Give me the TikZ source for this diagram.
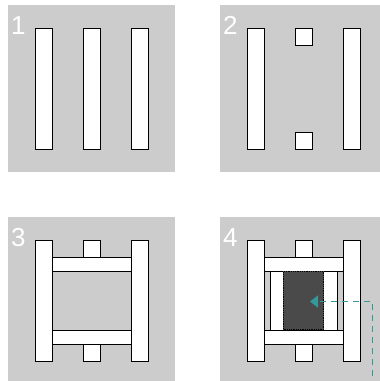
\documentclass[tikz,border=0pt]{standalone}
\usepackage{fontspec}
\setmainfont{Liberation Sans}
\usetikzlibrary{arrows.meta}
\definecolor{panelgray}{HTML}{CCCCCC}
\definecolor{darkfill}{HTML}{4A4A4A}
\definecolor{tealc}{HTML}{339999}
\tikzset{
  panel/.style={fill=panelgray, draw=none},
  bar/.style={fill=white, draw=black, line width=1pt},
  darkbox/.style={fill=darkfill, draw=black, line width=0.8pt, densely dotted, inner sep=0pt, minimum width=40pt, minimum height=58pt},
  num/.style={text=white, font=\fontsize{26}{26}\selectfont, anchor=base west, inner sep=0pt},
  guide/.style={draw=tealc, line width=1.4pt, dash pattern=on 6pt off 5pt, -{Triangle[length=8pt,width=12pt]}}
}
\begin{document}
\begin{tikzpicture}[x=1pt,y=-1pt]
\clip (0,0) rectangle (380,381);
\fill[white] (0,0) rectangle (380,381);
% panel 1
\begin{scope}[shift={(8,5)}]
  \fill[panel] (0,0) rectangle (167,167);
  \node[num] (n1) at (3,29) {1};
  \draw[bar] (27,23) rectangle (44,144);
  \draw[bar] (75,23) rectangle (92,144);
  \draw[bar] (123,23) rectangle (140,144);
\end{scope}
% panel 2
\begin{scope}[shift={(220,5)}]
  \fill[panel] (0,0) rectangle (167,167);
  \node[num] (n2) at (3,29) {2};
  \draw[bar] (27,23) rectangle (44,144);
  \draw[bar] (75,23) rectangle (92,40);
  \draw[bar] (75,127) rectangle (92,144);
  \draw[bar] (123,23) rectangle (140,144);
\end{scope}
% panel 3
\begin{scope}[shift={(8,217)}]
  \fill[panel] (0,0) rectangle (167,167);
  \node[num] (n3) at (3,29) {3};
  \draw[bar] (27,23) rectangle (44,144);
  \draw[bar] (123,23) rectangle (140,144);
  \draw[bar] (75,23) rectangle (92,40);
  \draw[bar] (75,127) rectangle (92,144);
  \draw[bar] (44,40) rectangle (123,54);
  \draw[bar] (44,113) rectangle (123,127);
\end{scope}
% panel 4
\begin{scope}[shift={(220,217)}]
  \fill[panel] (0,0) rectangle (167,167);
  \node[num] (n4) at (3,29) {4};
  \draw[bar] (27,23) rectangle (44,144);
  \draw[bar] (123,23) rectangle (140,144);
  \draw[bar] (75,23) rectangle (92,40);
  \draw[bar] (75,127) rectangle (92,144);
  \draw[bar] (44,40) rectangle (123,54);
  \draw[bar] (44,113) rectangle (123,127);
  \draw[bar] (50,54) rectangle (117,113);
  \fill[darkfill] (63,54) rectangle (104,113);
  \node[darkbox] (dark) at (83.5,83.5) {};
  \coordinate (tip) at (90,84.5);
  \coordinate (start) at (152.7,170);
  \draw[guide] (start) |- (tip);
\end{scope}
\end{tikzpicture}
\end{document}
